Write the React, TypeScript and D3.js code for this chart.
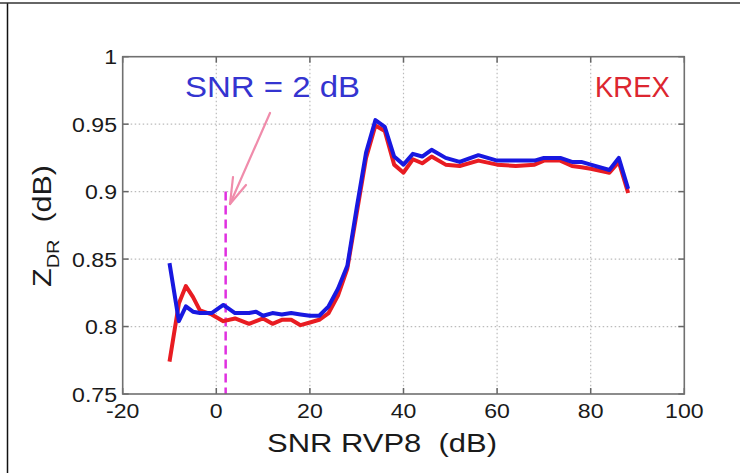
import React from "react";
import * as d3 from "d3";

const snr = [-10, -8, -6.5, -5, -3.5, -1, 1.5, 4, 7, 8.5, 10, 12, 14, 16, 18, 20, 22, 24, 26, 28, 30, 32, 34, 36, 38, 40, 42, 44, 46, 49, 52, 56, 60, 64, 68, 70, 73.5, 76, 78, 80, 84, 86, 88];
const zdrBlue = [0.847, 0.804, 0.815, 0.811, 0.81, 0.81, 0.816, 0.81, 0.81, 0.811, 0.808, 0.81, 0.809, 0.81, 0.809, 0.808, 0.808, 0.815, 0.828, 0.845, 0.888, 0.929, 0.953, 0.948, 0.926, 0.92, 0.928, 0.926, 0.931, 0.925, 0.922, 0.927, 0.923, 0.923, 0.923, 0.925, 0.925, 0.922, 0.922, 0.92, 0.916, 0.925, 0.902];
const zdrRed = [0.774, 0.817, 0.83, 0.822, 0.812, 0.809, 0.804, 0.806, 0.802, 0.804, 0.806, 0.802, 0.805, 0.805, 0.801, 0.803, 0.805, 0.81, 0.823, 0.843, 0.884, 0.925, 0.949, 0.945, 0.92, 0.914, 0.924, 0.921, 0.926, 0.92, 0.919, 0.923, 0.92, 0.919, 0.92, 0.923, 0.923, 0.919, 0.918, 0.917, 0.914, 0.922, 0.899];
const xTicks = [-20, 0, 20, 40, 60, 80, 100];
const yTicks = [0.75, 0.8, 0.85, 0.9, 0.95, 1];
const yTickLabels = ["0.75", "0.8", "0.85", "0.9", "0.95", "1"];
const markerSnr = 2;
const markerTop = 0.9;

const FONT = "'Liberation Sans', Arial, sans-serif";

export default function App() {
  const left = 122.7, right = 684.3, top = 56.7, bottom = 394;
  const x = d3.scaleLinear().domain([-20, 100]).range([left, right]);
  const y = d3.scaleLinear().domain([0.75, 1]).range([bottom, top]);
  const line = d3.line<number>().x((_, i) => x(snr[i])).y((d) => y(d));

  return (
    <svg width={740} height={473} style={{ position: "absolute", left: 0, top: 0, background: "#fff" }} fontFamily={FONT}>
      {/* outer frame */}
      <line x1={7.5} y1={3} x2={7.5} y2={473} stroke="#111" strokeWidth={1.5} />
      <line x1={0} y1={3} x2={740} y2={3} stroke="#333" strokeWidth={1.5} />

      {/* grid */}
      {xTicks.slice(1, -1).map((t) => (
        <line key={"gx" + t} x1={x(t)} x2={x(t)} y1={top} y2={bottom} stroke="#bbb" strokeWidth={1.2} strokeDasharray="1.5,2.5" />
      ))}
      {yTicks.slice(1, -1).map((t) => (
        <line key={"gy" + t} x1={left} x2={right} y1={y(t)} y2={y(t)} stroke="#bbb" strokeWidth={1.2} strokeDasharray="1.5,2.5" />
      ))}

      {/* ticks */}
      {xTicks.map((t) => (
        <g key={"tx" + t}>
          <line x1={x(t)} x2={x(t)} y1={bottom} y2={bottom - 6} stroke="#666" strokeWidth={1.5} />
          <line x1={x(t)} x2={x(t)} y1={top} y2={top + 6} stroke="#666" strokeWidth={1.5} />
        </g>
      ))}
      {yTicks.map((t) => (
        <g key={"ty" + t}>
          <line x1={left} x2={left + 6} y1={y(t)} y2={y(t)} stroke="#666" strokeWidth={1.5} />
          <line x1={right} x2={right - 6} y1={y(t)} y2={y(t)} stroke="#666" strokeWidth={1.5} />
        </g>
      ))}

      {/* data */}
      <line x1={x(markerSnr)} x2={x(markerSnr)} y1={y(markerTop)} y2={bottom} stroke="#e030e0" strokeWidth={2.5} strokeDasharray="9,5" />
      <path d={line(zdrRed) || ""} fill="none" stroke="#e81c22" strokeWidth={4} strokeLinejoin="round" />
      <path d={line(zdrBlue) || ""} fill="none" stroke="#1818e0" strokeWidth={4} strokeLinejoin="round" />

      {/* axes box */}
      <rect x={left} y={top} width={right - left} height={bottom - top} fill="none" stroke="#707070" strokeWidth={1.6} />

      {/* tick labels */}
      {xTicks.map((t) => (
        <text key={"lx" + t} transform={`translate(${x(t)},418) scale(1.1,1)`} textAnchor="middle" fontSize={21} fill="#1a1a1a">{t}</text>
      ))}
      {yTicks.map((t, i) => (
        <text key={"ly" + t} transform={`translate(117,${y(t) + 7.5}) scale(1.1,1)`} textAnchor="end" fontSize={21} fill="#1a1a1a">{yTickLabels[i]}</text>
      ))}

      {/* axis labels */}
      <text x={267} y={452} fontSize={25} fill="#1a1a1a" textLength={230} lengthAdjust="spacingAndGlyphs" style={{ whiteSpace: "pre" }}>SNR RVP8  (dB)</text>
      <text transform="translate(51,226) rotate(-90)" textAnchor="middle" fontSize={26} fill="#1a1a1a" style={{ whiteSpace: "pre" }} textLength={122} lengthAdjust="spacingAndGlyphs">
        <tspan>Z</tspan>
        <tspan fontSize={17} dy={8}>DR</tspan>
        <tspan dy={-8}>  (dB)</tspan>
      </text>

      {/* annotations */}
      <text x={185} y={97} fontSize={29} fill="#3434d0" textLength={175} lengthAdjust="spacingAndGlyphs">SNR = 2 dB</text>
      <text x={595} y={97} fontSize={29} fill="#dc2630" textLength={75} lengthAdjust="spacingAndGlyphs">KREX</text>

      {/* arrow */}
      <g stroke="#f08cab" strokeWidth={2.2} fill="none" strokeLinecap="round">
        <line x1={270} y1={113} x2={230} y2={204} />
        <line x1={230} y1={204} x2={233} y2={177} />
        <line x1={230} y1={204} x2={246} y2={185} />
      </g>
    </svg>
  );
}
